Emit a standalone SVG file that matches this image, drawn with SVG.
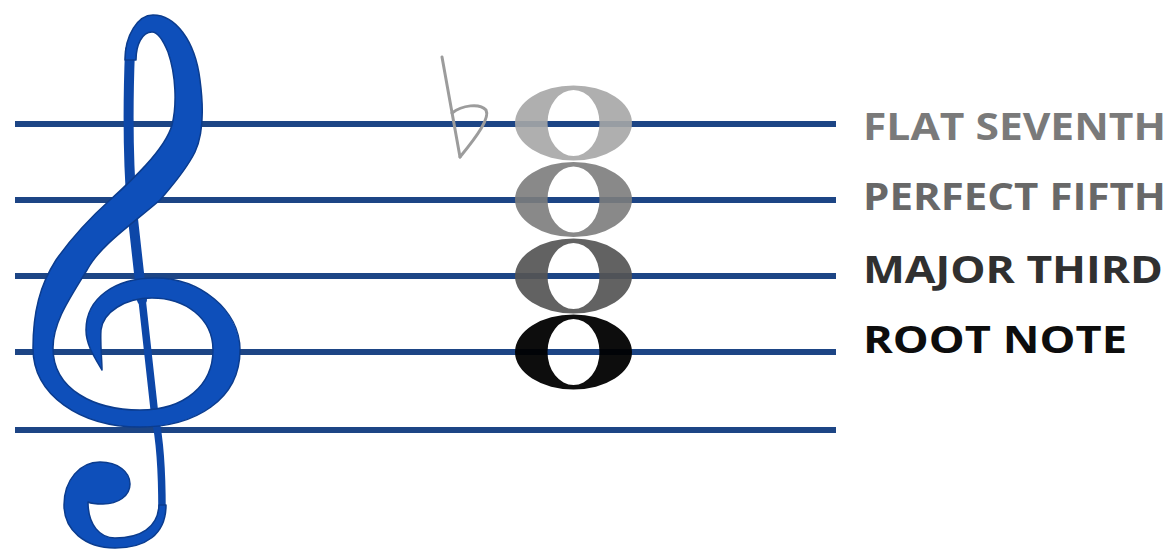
<svg xmlns="http://www.w3.org/2000/svg" width="1171" height="549" viewBox="0 0 1171 549">
  <style>
    .staff { stroke: #1d4585; stroke-width: 6; }
    .clef { fill: #0e4fba; stroke: #0b3c8e; stroke-width: 1.5; stroke-linejoin: round; }
    .stem { fill: none; stroke: #0d47a8; stroke-linecap: round; stroke-linejoin: round; }
    .label { font-family: "Open Sans", Lato, sans-serif; font-weight: 700; font-size: 38px; }
    .flat { fill: none; stroke: #9c9c9c; stroke-width: 3; stroke-linecap: round; }
  </style>
  <defs>
    <path id="note" fill-rule="evenodd" d="M -58.5,0 a58.5,37.5 0 1,0 117,0 a58.5,37.5 0 1,0 -117,0 Z M -26,0 a26,33 0 1,0 52,0 a26,33 0 1,0 -52,0 Z"/>
  </defs>
  <rect width="1171" height="549" fill="#ffffff"/>

  <g id="staff">
    <line class="staff" x1="15" y1="124" x2="836" y2="124"/>
    <line class="staff" x1="15" y1="200" x2="836" y2="200"/>
    <line class="staff" x1="15" y1="276" x2="836" y2="276"/>
    <line class="staff" x1="15" y1="352" x2="836" y2="352"/>
    <line class="staff" x1="15" y1="430" x2="836" y2="430"/>
  </g>

  <g id="treble-clef">
    <path class="stem" stroke-width="10" d="M 130,50 C 128,100 128,160 132,210 L 142,300"/>
    <path class="stem" stroke-width="7.5" d="M 141,290 L 155,417 C 160,440 162,470 162,510"/>
    <path class="clef" d="M 125,60 C 125,35 138,15 153,15 C 175,15 195,40 200,80 C 204,110 203,135 195,152 C 185,172 170,188 160,200 C 135,222 100,245 87,270 C 70,298 53,322 53,348 C 53,390 95,410 140,410 C 185,410 213,385 213,350 C 213,318 185,298 152,298 C 125,298 103,312 101,330 C 100,345 102,358 102,370 C 95,358 86,345 86,330 C 86,298 115,278 155,278 C 200,278 240,310 240,350 C 240,400 195,427 140,427 C 80,427 33,395 33,348 C 33,312 40,285 56,260 C 70,240 90,218 110,200 C 130,182 165,150 172,125 C 177,105 176,75 168,52 C 163,40 158,32 152,32 C 142,32 136,45 136,60 Z"/>
    <path class="clef" d="M 166,505 C 166,535 145,548 115,548 C 85,548 64,530 64,505 C 64,480 80,462 100,462 C 118,462 130,472 130,484 C 130,496 118,504 103,504 C 96,504 90,503 88,502 C 88,525 100,538 115,538 C 140,538 158,528 159,505 Z"/>
  </g>

  <g id="flat-sign">
    <path class="flat" d="M 442,57 L 460,157"/>
    <path class="flat" d="M 452,113 C 462,105 480,103 486,110 C 490,118 478,135 460,157"/>
  </g>

  <g id="notes">
    <g id="note-seventh"><use href="#note" x="573.5" y="123" fill="#a6a6a6" fill-opacity="0.9"/></g>
    <g id="note-fifth"><use href="#note" x="573.5" y="199.5" fill="#7c7c7c" fill-opacity="0.9"/></g>
    <g id="note-third"><use href="#note" x="573.5" y="276" fill="#555555" fill-opacity="0.92"/></g>
    <g id="note-root"><use href="#note" x="573.5" y="352" fill="#000000" fill-opacity="0.95"/></g>
  </g>

  <g id="labels">
    <text id="label-seventh" class="label" x="863" y="140" fill="#7a7a7a" textLength="303" lengthAdjust="spacingAndGlyphs">FLAT SEVENTH</text>
    <text id="label-fifth" class="label" x="863" y="210" fill="#686868" textLength="303" lengthAdjust="spacingAndGlyphs">PERFECT FIFTH</text>
    <text id="label-third" class="label" x="863" y="283" fill="#303030" textLength="300" lengthAdjust="spacingAndGlyphs">MAJOR THIRD</text>
    <text id="label-root" class="label" x="863" y="353" fill="#0d0d0d" textLength="264" lengthAdjust="spacingAndGlyphs">ROOT NOTE</text>
  </g>
</svg>
